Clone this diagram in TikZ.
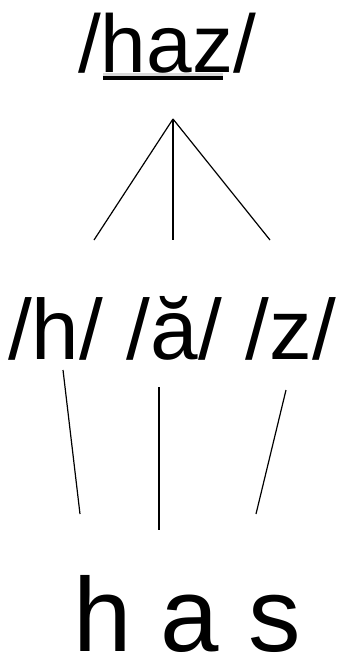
\documentclass[tikz,border=0pt]{standalone}
\usepackage{fontspec}
\setmainfont{Liberation Sans}
\tikzset{
  bigtext/.style={inner sep=0pt, anchor=base, text=black, text depth=0pt},
  link/.style={line width=1.2pt, black},
}
\begin{document}
\begin{tikzpicture}[x=1pt,y=-1pt]
\useasboundingbox (0,0) rectangle (341,657);
% texts
\node[bigtext, font=\fontsize{82}{82}\selectfont] (top) at (167,72) {/haz/};
\node[bigtext, font=\fontsize{85.5}{86}\selectfont] (mid) at (172,359) {/h/ /ă/ /z/};
\node[bigtext, font=\fontsize{105}{105}\selectfont] (bot) at (187,651) {h a s};
% underline with shadow
\coordinate (ulA) at (103,78);
\coordinate (ulB) at (223,78);
\draw[line width=5pt, gray!60, opacity=0.5] ([yshift=3]ulA) -- ([yshift=3]ulB);
\draw[line width=4pt, black] (ulA) -- (ulB);
% tree
\coordinate (apex) at (173,119);
\coordinate (t1) at (94,240);
\coordinate (t2) at (173,240);
\coordinate (t3) at (270,240);
\draw[link] (apex) -- (t1);
\draw[link] (apex) -- (t2);
\draw[link] (apex) -- (t3);
% lower links
\coordinate (a1) at (63,370);
\coordinate (b1) at (80,514);
\coordinate (a2) at (159,387);
\coordinate (b2) at (159,530);
\coordinate (a3) at (286,390);
\coordinate (b3) at (256,514);
\draw[link] (a1) -- (b1);
\draw[link] (a2) -- (b2);
\draw[link] (a3) -- (b3);
\end{tikzpicture}
\end{document}
